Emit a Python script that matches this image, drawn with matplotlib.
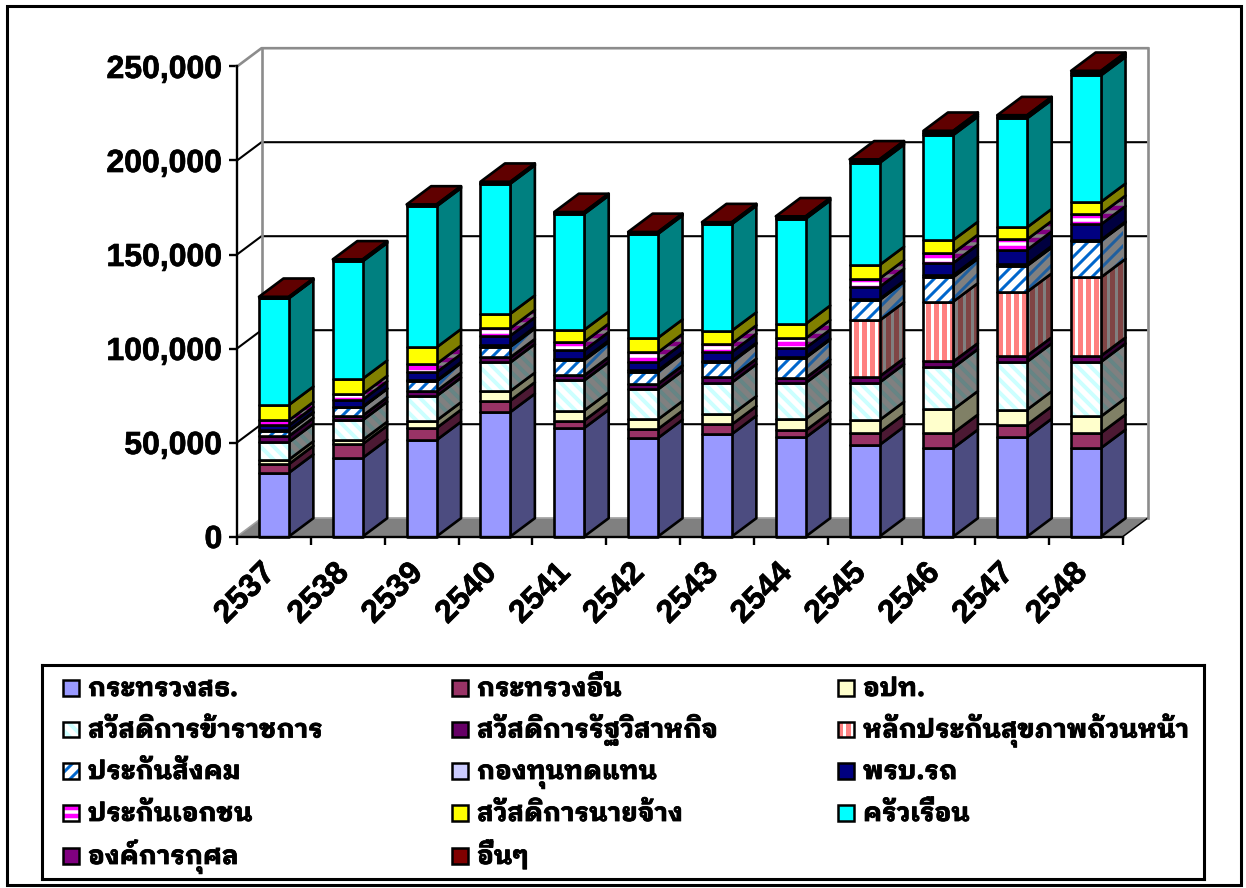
import matplotlib
matplotlib.use('Agg')
import numpy as np
import matplotlib.pyplot as plt
import matplotlib.patheffects as pe
from matplotlib.patches import Polygon, Rectangle
from matplotlib.collections import LineCollection
from matplotlib.transforms import IdentityTransform, ScaledTranslation

years = ['2537', '2538', '2539', '2540', '2541', '2542', '2543', '2544', '2545', '2546', '2547', '2548']

moph = [33900, 41800, 51300, 66200, 57700, 52400, 54500, 52700, 48700, 47100, 52900, 47100]
other_ministry = [4600, 7400, 6400, 6100, 4000, 4800, 5100, 3700, 6600, 8000, 6600, 8000]
local_gov = [2400, 2100, 4000, 5100, 5300, 5100, 5300, 6100, 6600, 12500, 8000, 8800]
civil_servant = [9300, 10600, 13000, 15200, 16000, 16000, 17000, 19200, 20000, 22300, 25500, 29000]
state_enterprise = [3200, 2400, 2700, 2700, 2700, 2900, 2900, 2700, 3200, 3200, 3200, 3200]
universal = [0, 0, 0, 0, 0, 0, 0, 0, 29800, 31900, 34000, 41800]
social_security = [2700, 4500, 5100, 5600, 8000, 6400, 8000, 10600, 10900, 13000, 13800, 19400]
compensation = [300, 300, 500, 800, 800, 800, 500, 500, 500, 1100, 800, 500]
traffic_act = [2700, 3700, 4300, 5100, 4500, 4500, 4800, 4800, 6400, 6400, 7700, 8200]
private_ins = [2700, 2900, 4500, 4000, 4500, 5100, 4500, 5100, 4500, 5300, 5600, 5600]
employer = [8200, 8200, 8800, 7700, 6400, 7700, 6900, 7700, 7200, 6900, 6400, 6400]
household = [56700, 62500, 75000, 69200, 61700, 55300, 56700, 55900, 54300, 55900, 58000, 67300]
charity = [300, 500, 500, 500, 500, 500, 500, 500, 1100, 1100, 800, 1300]
others = [500, 500, 500, 500, 500, 500, 500, 800, 800, 1100, 800, 1100]

# label, values, front colour, side colour, pattern, stripe colour, side stripe colour
series = [
    ('กระทรวงสธ.', moph, '#9999FF', '#4C4C80', None, None, None),
    ('กระทรวงอื่น', other_ministry, '#993366', '#4C1933', None, None, None),
    ('อปท.', local_gov, '#FFFFCC', '#808066', None, None, None),
    ('สวัสดิการข้าราชการ', civil_servant, '#FFFFFF', '#808080', 'down', '#CCFFFF', '#668585'),
    ('สวัสดิการรัฐวิสาหกิจ', state_enterprise, '#660066', '#330033', None, None, None),
    ('หลักประกันสุขภาพถ้วนหน้า', universal, '#FFFFFF', '#808080', 'vert', '#FF8080', '#804545'),
    ('ประกันสังคม', social_security, '#FFFFFF', '#808080', 'up', '#0066CC', '#1F5F9F'),
    ('กองทุนทดแทน', compensation, '#CCCCFF', '#666680', None, None, None),
    ('พรบ.รถ', traffic_act, '#000080', '#000040', None, None, None),
    ('ประกันเอกชน', private_ins, '#FFFFFF', '#808080', 'horiz', '#FF00FF', '#800080'),
    ('สวัสดิการนายจ้าง', employer, '#FFFF00', '#808000', None, None, None),
    ('ครัวเรือน', household, '#00FFFF', '#008080', None, None, None),
    ('องค์การกุศล', charity, '#800080', '#400040', None, None, None),
    ('อื่นๆ', others, '#800000', '#400000', None, None, None),
]

W, H = 1246, 888
LATIN = ['Liberation Sans', 'DejaVu Sans']
THAI = ['IBM Plex Sans Thai Looped', 'Noto Sans Thai', 'DejaVu Sans']
EDGE_LW = 1.9
bar_width = 0.405
ymax = 250000

fig = plt.figure(figsize=(W / 100, H / 100), dpi=100, facecolor='white')
fig.add_artist(Rectangle((7 / W, 1 - 884.5 / H), 1233.5 / W, 878.5 / H, transform=fig.transFigure,
                         fill=False, edgecolor='black', linewidth=2.2))

# front plane of the box
ax = fig.add_axes([237 / W, 1 - 536.5 / H, 886 / W, 470 / H])
ax.set_xlim(0, 12)
ax.set_ylim(0, ymax)
ax.patch.set_visible(False)
for s in ('top', 'right'):
    ax.spines[s].set_visible(False)
for s in ('left', 'bottom'):
    ax.spines[s].set_linewidth(1.7)
    ax.spines[s].set_zorder(500)

# oblique offset of the back plane, in data units
depth_x = 24.5 * 12 / 886
depth_y = 18.3 * ymax / 470


def back(x, y):
    return (x + depth_x, y + depth_y)


def add_stripes(target, poly, kind, color):
    # stripes stay anchored to the screen and are clipped to the face
    pts = target.transData.transform(poly.get_xy())
    x0, y0 = pts.min(axis=0) - 2
    x1, y1 = pts.max(axis=0) + 2
    segs = []
    if kind == 'vert':
        segs = [[(c, y0), (c, y1)] for c in np.arange(np.floor(x0 / 8) * 8, x1, 8)]
        lw = 5 / 1.39
    elif kind == 'horiz':
        segs = [[(x0, c), (x1, c)] for c in np.arange(np.floor(y0 / 8) * 8, y1, 8)]
        lw = 4.5 / 1.39
    elif kind == 'up':
        for c in np.arange(np.floor((y0 - x1) / 13) * 13, y1 - x0, 13):
            segs.append([(x0, x0 + c), (x1, x1 + c)])
        lw = 3 / 1.39
    else:
        for c in np.arange(np.floor((y0 + x0) / 13) * 13, y1 + x1, 13):
            segs.append([(x0, c - x0), (x1, c - x1)])
        lw = 4 / 1.39
    lines = LineCollection(segs, colors=color, linewidths=lw, zorder=poly.get_zorder())
    target.add_collection(lines, autolim=False)
    lines.set_transform(IdentityTransform())
    lines.set_clip_path(poly)


def add_face(verts, color, z, pattern=None, stripe=None):
    face = Polygon(verts, closed=True, facecolor=color, edgecolor='none', zorder=z, clip_on=False)
    ax.add_patch(face)
    if pattern:
        add_stripes(ax, face, pattern, stripe)
    ax.add_patch(Polygon(verts, closed=True, fill=False, edgecolor='black', linewidth=EDGE_LW,
                         joinstyle='round', zorder=z + 0.5, clip_on=False))


# walls, floor and gridlines
ax.add_patch(Polygon([(0, 0), (12, 0), back(12, 0), back(0, 0)], closed=True, facecolor='#808080',
                     edgecolor='none', zorder=1, clip_on=False))
grid_kw = dict(color='black', linewidth=1.5, zorder=2, clip_on=False, solid_capstyle='butt')
wall_kw = dict(color='#8C8C8C', linewidth=1.9, zorder=3, clip_on=False, solid_capstyle='projecting')
y_ticks = np.arange(0, ymax + 1, 50000)
for v in y_ticks[1:-1]:
    p0, p1 = back(0, v), back(12, v)
    ax.plot([0, p0[0], p1[0]], [v, p0[1], p1[1]], **grid_kw)
top0, top1 = back(0, ymax), back(12, ymax)
ax.plot([0, top0[0], top1[0]], [ymax, top0[1], top1[1]], **wall_kw)
low0, low1 = back(0, 0), back(12, 0)
ax.plot([low0[0], top0[0]], [low0[1], top0[1]], **wall_kw)
ax.plot([low1[0], top1[0]], [low1[1], top1[1]], **wall_kw)
ax.plot([low0[0], low1[0]], [low0[1], low1[1]], color='#A0A0A0', linewidth=1.2, zorder=2, clip_on=False)
ax.plot([0, low0[0]], [0, low0[1]], color='#A0A0A0', linewidth=1.2, zorder=2, clip_on=False)
ax.plot([12, low1[0]], [0, low1[1]], color='black', linewidth=1.1, zorder=2, clip_on=False)

# stacked bars, bottom segment first
for i in range(len(years)):
    left = i + 0.5 - bar_width / 2
    right = i + 0.5 + bar_width / 2
    base = 0
    for k, (label, values, front, side, pattern, stripe, side_stripe) in enumerate(series):
        top = base + values[i]
        z = 10 + i * 20 + k
        add_face([back(right, base), back(right, top), (right, top), (right, base)], side, z, pattern, side_stripe)
        add_face([(left, base), (right, base), (right, top), (left, top)], front, z + 0.6, pattern, stripe)
        if k == len(series) - 1:
            add_face([(left, top), (right, top), back(right, top), back(left, top)], '#600000', z)
        base = top

ax.set_yticks(y_ticks)
ax.set_yticklabels([f'{v:,}' for v in y_ticks], fontsize=23, fontweight='bold', family=LATIN)
ax.set_xticks(np.arange(0, 13))
ax.set_xticklabels([])
ax.set_xticks(np.arange(len(years)) + 0.5, minor=True)
ax.set_xticklabels(years, minor=True, rotation=45, ha='right', va='top', rotation_mode='anchor',
                   fontsize=23, fontweight='bold', family=LATIN)
ax.tick_params(axis='both', which='major', length=5.5, width=1.7, pad=5, zorder=500)
ax.tick_params(axis='x', which='minor', length=0, pad=15.5)
shift = ScaledTranslation(-10 / 72, 0, fig.dpi_scale_trans)
for lab in ax.get_xticklabels(minor=True):
    lab.set_transform(lab.get_transform() + shift)
    lab.set_path_effects([pe.withStroke(linewidth=0.5, foreground='black')])
for lab in ax.get_yticklabels():
    lab.set_path_effects([pe.withStroke(linewidth=0.5, foreground='black')])

# legend box, three columns filled row by row
leg = fig.add_axes([42 / W, 1 - 879 / H, 1162 / W, 214 / H])
leg.set_xlim(42, 1204)
leg.set_ylim(879, 665)
leg.set_xticks([])
leg.set_yticks([])
for s in leg.spines.values():
    s.set_linewidth(2.2)
col_x = [63, 452, 838]
row_y = [688, 729.5, 771, 813, 856]
swatch = 15.5
for k, (label, values, front, side, pattern, stripe, side_stripe) in enumerate(series):
    row, col = divmod(k, 3)
    x, y = col_x[col], row_y[row]
    box = Polygon([(x, y - swatch / 2), (x + swatch, y - swatch / 2), (x + swatch, y + swatch / 2), (x, y + swatch / 2)],
                  closed=True, facecolor=front, edgecolor='none', zorder=2)
    leg.add_patch(box)
    if pattern:
        add_stripes(leg, box, pattern, stripe)
    leg.add_patch(Rectangle((x, y - swatch / 2), swatch, swatch, fill=False, edgecolor='black', linewidth=1.8, zorder=3))
    leg.text(x + 25, y + 8, label, fontsize=18.6, fontweight='bold', family=THAI, va='baseline', ha='left',
             path_effects=[pe.withStroke(linewidth=0.6, foreground='black')])

fig.savefig('out.png', dpi=100)
